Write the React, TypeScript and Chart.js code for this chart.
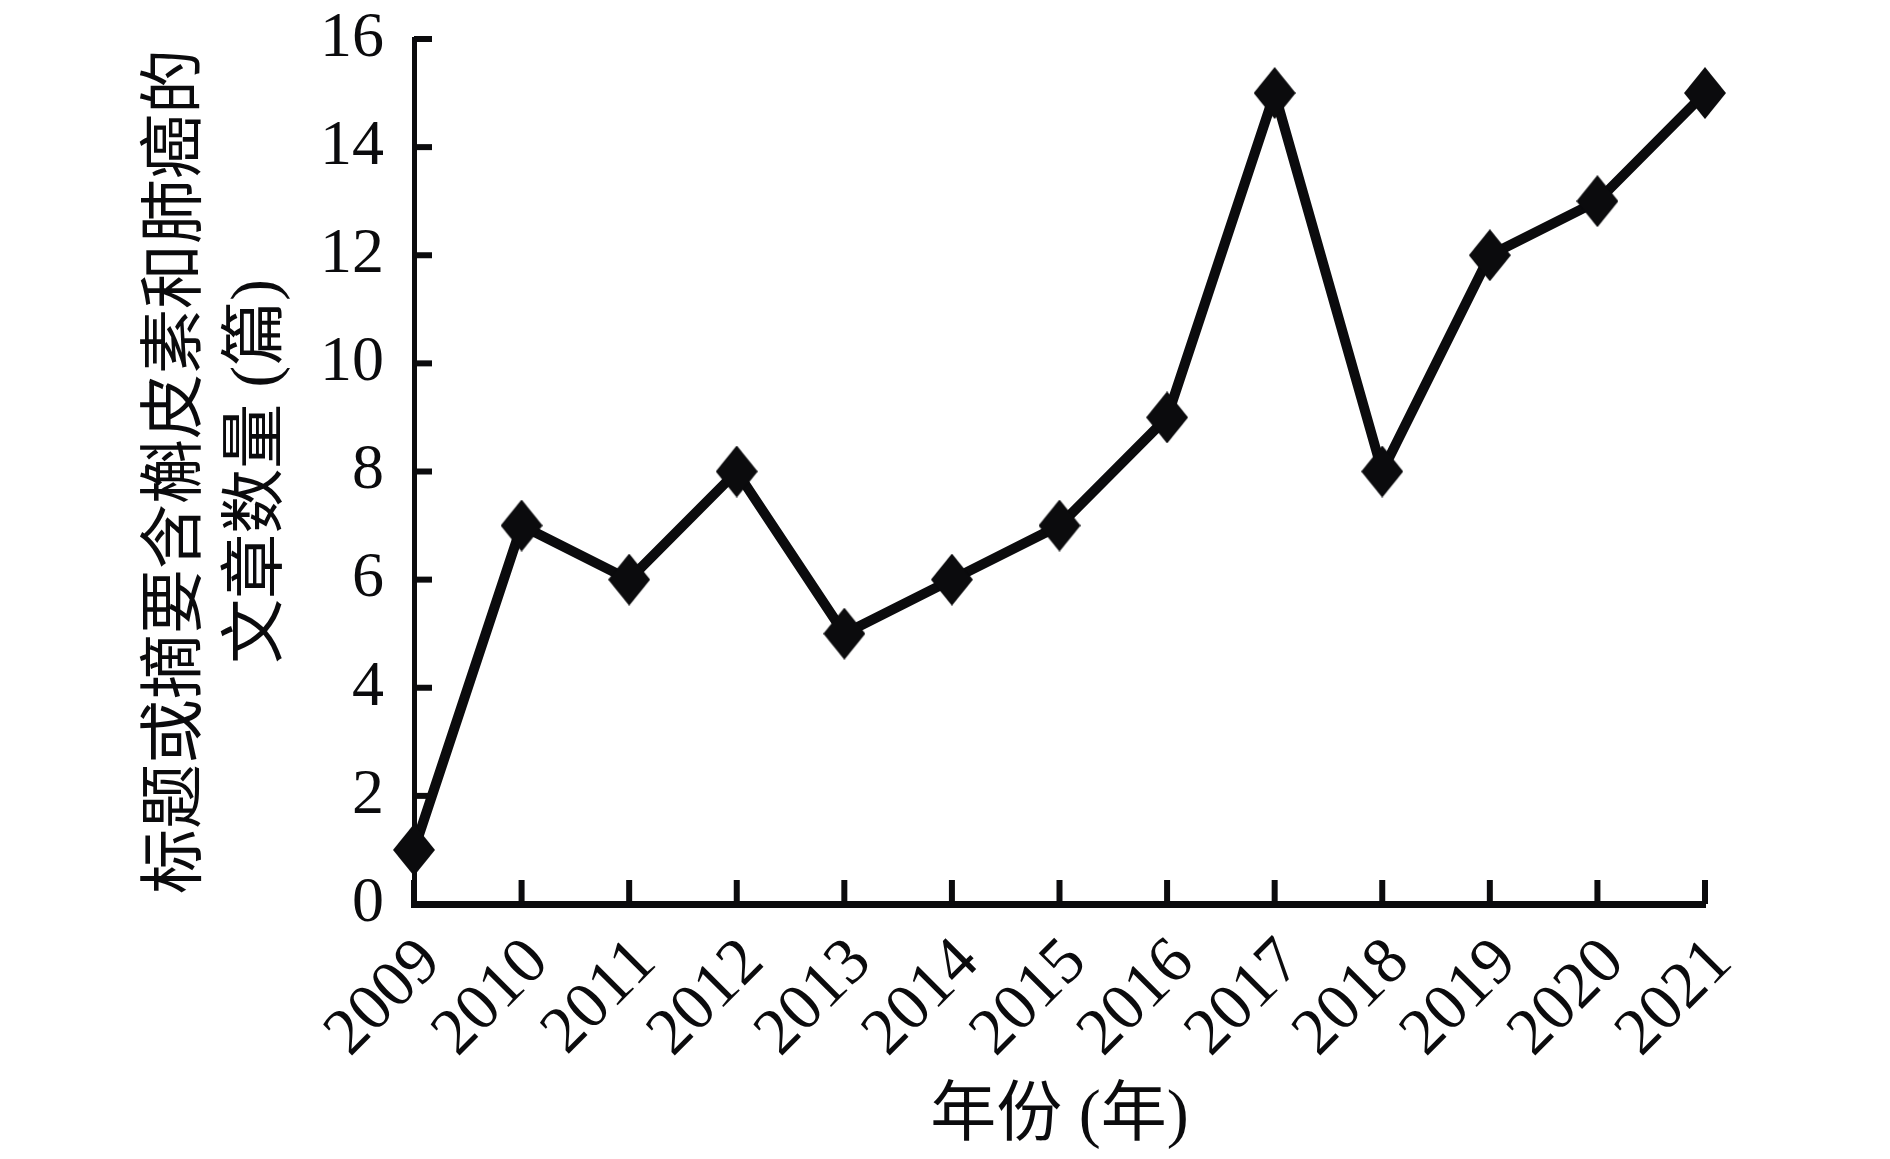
import React, { useEffect, useRef } from "react";
import { Chart, registerables } from "chart.js";

Chart.register(...registerables);

const years = ["2009", "2010", "2011", "2012", "2013", "2014", "2015", "2016", "2017", "2018", "2019", "2020", "2021"];
const articleCounts = [1, 7, 6, 8, 5, 6, 7, 9, 15, 8, 12, 13, 15];
const yTitleLines = ["标题或摘要含槲皮素和肺癌的", "文章数量 (篇)"];
const xTitle = "年份 (年)";

const FONT = '"Liberation Serif", "Times New Roman", "Noto Sans CJK SC", serif';

function makeDiamond(): HTMLCanvasElement {
  const c = document.createElement("canvas");
  const w = 42;
  const h = 52;
  c.width = w;
  c.height = h;
  const ctx = c.getContext("2d")!;
  ctx.fillStyle = "#0b0b0d";
  ctx.beginPath();
  ctx.moveTo(w / 2, 0);
  ctx.lineTo(w, h / 2);
  ctx.lineTo(w / 2, h);
  ctx.lineTo(0, h / 2);
  ctx.closePath();
  ctx.fill();
  return c;
}

const inwardTicks = {
  id: "inwardTicks",
  beforeDatasetsDraw(chart: any) {
    const { ctx, chartArea, scales } = chart;
    ctx.save();
    ctx.strokeStyle = "#0b0b0d";
    const xs = scales.x;
    ctx.lineWidth = 6;
    xs.ticks.forEach((_: any, i: number) => {
      const px = xs.getPixelForTick(i);
      ctx.beginPath();
      ctx.moveTo(px, chartArea.bottom);
      ctx.lineTo(px, chartArea.bottom - 24);
      ctx.stroke();
    });
    const ys = scales.y;
    ctx.lineWidth = 6;
    ys.ticks.forEach((_: any, i: number) => {
      const py = ys.getPixelForTick(i);
      ctx.beginPath();
      ctx.moveTo(chartArea.left, py);
      ctx.lineTo(chartArea.left + 18, py);
      ctx.stroke();
    });
    ctx.restore();
  },
};

export default function App() {
  const ref = useRef<HTMLCanvasElement>(null);

  useEffect(() => {
    document.body.style.margin = "0";
    const canvas = ref.current!;
    const chart = new Chart(canvas, {
      type: "line",
      data: {
        labels: years,
        datasets: [
          {
            data: articleCounts,
            borderColor: "#0b0b0d",
            borderWidth: 10,
            pointStyle: makeDiamond() as any,
            pointRadius: 21,
            pointHoverRadius: 21,
            backgroundColor: "#0b0b0d",
            tension: 0,
            clip: false as any,
          },
        ],
      },
      options: {
        animation: false,
        responsive: false,
        devicePixelRatio: 1,
        events: [],
        layout: { autoPadding: false, padding: { left: 0, top: 39, right: 185, bottom: 0 } },
        plugins: {
          legend: { display: false },
          tooltip: { enabled: false },
        },
        scales: {
          x: {
            type: "category",
            offset: false,
            grid: { display: false, drawTicks: false },
            border: { display: true, color: "#0b0b0d", width: 7 },
            ticks: {
              color: "#0b0b0d",
              font: { family: FONT, size: 66 },
              minRotation: 45,
              maxRotation: 45,
              autoSkip: false,
              padding: 20,
              labelOffset: 17,
            },
            title: {
              display: true,
              text: xTitle,
              color: "#0b0b0d",
              font: { family: FONT, size: 66, lineHeight: 1.2 },
              padding: { top: 0, bottom: 2 },
            },
            afterFit(scale: any) {
              scale.height = 255;
              scale.paddingLeft = 0;
              scale.paddingRight = 0;
            },
          },
          y: {
            min: 0,
            max: 16,
            grid: { display: false, drawTicks: false },
            border: { display: true, color: "#0b0b0d", width: 5 },
            ticks: {
              stepSize: 2,
              color: "#0b0b0d",
              font: { family: FONT, size: 64 },
              padding: 30,
            },
            title: {
              display: true,
              text: yTitleLines,
              color: "#0b0b0d",
              font: { family: FONT, size: 65, lineHeight: 81 / 65 },
              padding: { top: 137, bottom: 0 },
            },
            afterFit(scale: any) {
              scale.width = 414;
              scale.paddingTop = 0;
              scale.paddingBottom = 0;
            },
          },
        },
      },
      plugins: [inwardTicks],
    });
    return () => chart.destroy();
  }, []);

  return (
    <div style={{ width: 1890, height: 1159, background: "#fff" }}>
      <canvas ref={ref} width={1890} height={1159} style={{ display: "block" }} />
    </div>
  );
}
